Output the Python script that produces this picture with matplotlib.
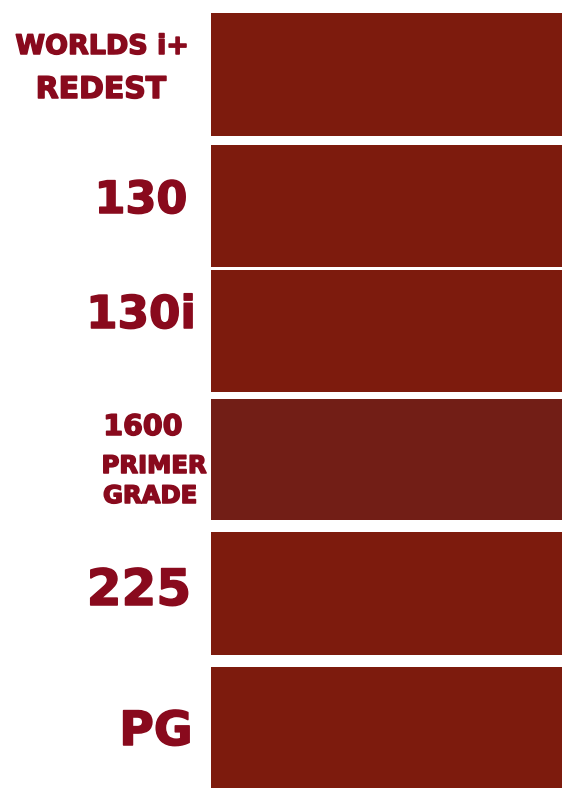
import matplotlib
matplotlib.use("Agg")
import matplotlib.pyplot as plt
import matplotlib.patheffects as pe

# ==========================================
# DATA
# ==========================================
labels = [
    ["WORLDS i+", "REDEST"],
    ["130"],
    ["130i"],
    ["1600", "PRIMER", "GRADE"],
    ["225"],
    ["PG"],
]
swatch_colors = ["#7d1b0d", "#7d1b0d", "#7d1b0d", "#721e16", "#7d1b0d", "#7d1b0d"]

# ==========================================
# LAYOUT (pixels)
# ==========================================
W, H = 563, 789
row_top = [13, 145, 270, 399, 532, 667]
row_bot = [136, 267, 392, 520, 655, 788]
sw_left, sw_right = 211, 562
text_color = "#890a1d"

# per line: (x center, baseline, fontsize)
text_pos = [
    [(102, 54, 19.4), (101, 98, 21.5)],
    [(141, 213, 32)],
    [(141, 328, 32.5)],
    [(143, 435, 20.5), (154, 473, 17.5), (150, 503, 17.5)],
    [(139, 605, 36)],
    [(156, 745, 34)],
]


def main():
    fig = plt.figure(figsize=(W / 100, H / 100), dpi=100)
    ax = fig.add_axes([0, 0, 1, 1])
    ax.set_xlim(0, W)
    ax.set_ylim(H, 0)
    ax.axis("off")

    centers = [(t + b) / 2 for t, b in zip(row_top, row_bot)]
    heights = [b - t for t, b in zip(row_top, row_bot)]
    ax.barh(centers, sw_right - sw_left, height=heights, left=sw_left,
            color=swatch_colors, edgecolor="none")

    heavy = [pe.withStroke(linewidth=1.1, foreground=text_color)]
    for lines, pos in zip(labels, text_pos):
        for txt, (x, y, fs) in zip(lines, pos):
            ax.text(x, y, txt, ha="center", va="baseline", fontsize=fs,
                    fontweight="bold", family="DejaVu Sans", color=text_color,
                    path_effects=heavy)

    fig.savefig("out.png", dpi=100, facecolor="white")


if __name__ == "__main__":
    main()
